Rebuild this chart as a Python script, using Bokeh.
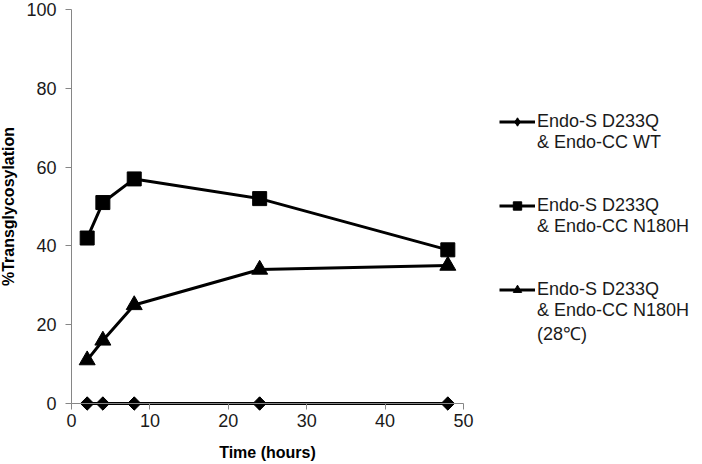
import math
from bokeh.plotting import figure
from bokeh.models import Range1d, Legend, LegendItem
from bokeh.embed import file_html
from bokeh.resources import INLINE

hours = [2, 4, 8, 24, 48]
wt = [0, 0, 0, 0, 0]
n180h = [42, 51, 57, 52, 39]
n180h_28 = [11, 16, 25, 34, 35]
x_ticks = [0, 10, 20, 30, 40, 50]
y_ticks = [0, 20, 40, 60, 80, 100]
legend_lines = [["Endo-S D233Q", "& Endo-CC WT"],
                ["Endo-S D233Q", "& Endo-CC N180H"],
                ["Endo-S D233Q", "& Endo-CC N180H", "(28\u2103)"]]
FONT = "Liberation Sans"

W, H = 702, 464
# pixel layout of the plot area inside the canvas
X0_PX, X50_PX = 71, 463
Y0_PX, Y100_PX = 403, 9
sx = (X50_PX - X0_PX) / 50.0
sy = (Y0_PX - Y100_PX) / 100.0
x_range = Range1d(-X0_PX / sx, 50 + (W - X50_PX) / sx)
y_range = Range1d(-(H - Y0_PX) / sy, 100 + Y100_PX / sy)

p = figure(width=W, height=H, output_backend="svg", toolbar_location=None,
           x_range=x_range, y_range=y_range,
           min_border_left=0, min_border_right=0, min_border_top=0, min_border_bottom=0)
p.outline_line_color = None
p.grid.visible = False
p.background_fill_color = "white"

r1 = p.line(hours, wt, line_color="black", line_width=3)
# narrow diamond (used by the legend), covered by the wider rotated-square markers
m1_leg = p.scatter(hours, wt, marker="diamond", size=13, color="black")
m1 = p.scatter(hours, wt, marker="square", angle=math.pi / 4, size=9.5, color="black")
r2 = p.line(hours, n180h, line_color="black", line_width=3)
m2 = p.scatter(hours, n180h, marker="square", size=14, color="black")
r3 = p.line(hours, n180h_28, line_color="black", line_width=3)
m3 = p.scatter(hours, n180h_28, marker="triangle", size=16, color="black")
dummy = p.line([], [], line_alpha=0)

for ax in (p.xaxis[0], p.yaxis[0]):
    ax.fixed_location = 0
    ax.axis_line_color = "#868686"
    ax.axis_line_width = 1
    ax.major_tick_line_color = "#868686"
    ax.minor_tick_line_color = None
    ax.major_tick_in = 0
    ax.major_tick_out = 6
    ax.major_label_text_font = FONT
    ax.major_label_text_font_size = "18px"
    ax.major_label_text_color = "#1a1a1a"
    ax.axis_label_text_font = FONT
    ax.axis_label_text_font_size = "16px"
    ax.axis_label_text_font_style = "bold"
    ax.axis_label_text_color = "#000000"

p.xaxis.bounds = (0, 50)
p.yaxis.bounds = (0, 100)
p.xaxis.ticker = x_ticks
p.yaxis.ticker = y_ticks
p.xaxis.axis_label = "Time (hours)"
p.yaxis.axis_label = "%Transglycosylation"
p.xaxis.major_label_standoff = 4
p.xaxis.axis_label_standoff = 14
p.yaxis.major_label_standoff = 9
p.yaxis.axis_label_standoff = 6

items = []
for k, (lines_, rs) in enumerate(zip(legend_lines, [[r1, m1_leg], [r2, m2], [r3, m3]])):
    items.append(LegendItem(label=lines_[0], renderers=rs))
    for t in lines_[1:]:
        items.append(LegendItem(label=t, renderers=[dummy]))
    if k < 2:
        items.append(LegendItem(label=" ", renderers=[dummy]))
        items.append(LegendItem(label=" ", renderers=[dummy]))

legend = Legend(items=items, location=(499, 119), border_line_color=None,
                background_fill_alpha=0, label_text_font=FONT,
                label_text_font_size="18px", label_text_color="#1a1a1a",
                glyph_width=36, glyph_height=21, label_height=21, label_standoff=2,
                spacing=0, padding=0, margin=0)
p.add_layout(legend, "center")

open("out.html", "w").write(file_html(p, INLINE))
